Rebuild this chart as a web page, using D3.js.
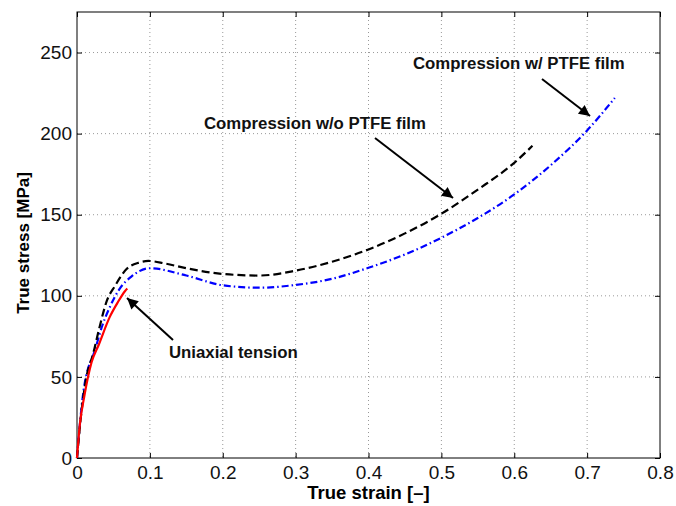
<!DOCTYPE html>
<html>
<head>
<meta charset="utf-8">
<script src="https://cdn.jsdelivr.net/npm/d3@7"></script>
<style>
  body { margin: 0; background: #fff; }
  svg { display: block; font-family: "Liberation Sans", Arial, sans-serif; }
  .grid line { stroke: #999; stroke-dasharray: 1,3; }
</style>
</head>
<body>
<div id="chart"></div>
<script>
// Data: [true strain, true stress MPa]
const tension = [[0,0],[0.004,21],[0.01,38],[0.02,59],[0.03,70],[0.045,87],[0.056,96],[0.066,103],[0.069,104.5]];
const compNoFilm = [[0,0],[0.005,24],[0.013,50],[0.022,64],[0.03,79],[0.041,97],[0.052,106],[0.068,116.5],[0.085,120.5],[0.098,121.5],[0.12,120],[0.15,117],[0.2,113.5],[0.25,112.5],[0.3,115.5],[0.35,121],[0.4,128.6],[0.45,138.5],[0.5,150.6],[0.55,165.5],[0.6,182],[0.625,192.5]];
const compFilm = [[0,0],[0.002,11],[0.009,41.5],[0.025,67],[0.035,82],[0.045,93],[0.058,104],[0.075,112],[0.1,117],[0.15,112.5],[0.2,106.5],[0.25,105],[0.3,106.7],[0.35,110.5],[0.4,117.3],[0.45,125.5],[0.5,135.8],[0.55,148],[0.6,162.5],[0.65,180.5],[0.7,202],[0.738,222]];
const xTicks = [0,0.1,0.2,0.3,0.4,0.5,0.6,0.7,0.8];
const yTicks = [0,50,100,150,200,250];

const W = 676, H = 506;
const m = {left: 77, right: 16, top: 12, bottom: 48};
const iw = W - m.left - m.right, ih = H - m.top - m.bottom;

const svg = d3.select("#chart").append("svg").attr("width", W).attr("height", H);
const g = svg.append("g").attr("transform", `translate(${m.left},${m.top})`);

const x = d3.scaleLinear().domain([0, 0.8]).range([0, iw]);
const y = d3.scaleLinear().domain([0, 275]).range([ih, 0]);

// Grid
g.append("g").attr("class", "grid")
  .selectAll("line").data(xTicks.slice(1, -1)).join("line")
  .attr("x1", d => x(d)).attr("x2", d => x(d)).attr("y1", 0).attr("y2", ih);
g.append("g").attr("class", "grid")
  .selectAll("line").data(yTicks.slice(1)).join("line")
  .attr("x1", 0).attr("x2", iw).attr("y1", d => y(d)).attr("y2", d => y(d));

// Axes with inward ticks, MATLAB style
const fmtX = d => d === 0 ? "0" : d3.format(".1f")(d);
const xb = g.append("g").attr("transform", `translate(0,${ih})`)
  .call(d3.axisBottom(x).tickValues(xTicks).tickFormat(fmtX).tickSizeInner(-5).tickSizeOuter(0).tickPadding(8));
const xt = g.append("g").call(d3.axisTop(x).tickValues(xTicks).tickFormat("").tickSizeInner(-5).tickSizeOuter(0));
const yl = g.append("g")
  .call(d3.axisLeft(y).tickValues(yTicks).tickSizeInner(-5).tickSizeOuter(0).tickPadding(5));
const yr = g.append("g").attr("transform", `translate(${iw},0)`)
  .call(d3.axisRight(y).tickValues(yTicks).tickFormat("").tickSizeInner(-5).tickSizeOuter(0));
[xb, xt, yl, yr].forEach(a => {
  a.select(".domain").remove();
  a.selectAll("line").attr("stroke", "#000");
  a.selectAll("text").attr("fill", "#111").style("font-size", "19px");
});

g.append("rect").attr("width", iw).attr("height", ih)
  .attr("fill", "none").attr("stroke", "#000").attr("stroke-width", 1);

// Curves
const line = d3.line().x(d => x(d[0])).y(d => y(d[1])).curve(d3.curveMonotoneX);
g.append("path").datum(compFilm).attr("d", line)
  .attr("fill", "none").attr("stroke", "#0000ff").attr("stroke-width", 2.2)
  .attr("stroke-dasharray", "7,3,1.5,3");
g.append("path").datum(compNoFilm).attr("d", line)
  .attr("fill", "none").attr("stroke", "#000").attr("stroke-width", 2.2)
  .attr("stroke-dasharray", "8,4");
g.append("path").datum(tension).attr("d", line)
  .attr("fill", "none").attr("stroke", "#ff0000").attr("stroke-width", 2.2);

// Annotations with arrows
svg.append("defs").append("marker")
  .attr("id", "arr").attr("viewBox", "0 0 10 10").attr("refX", 10).attr("refY", 5)
  .attr("markerWidth", 16).attr("markerHeight", 11).attr("markerUnits", "userSpaceOnUse")
  .attr("orient", "auto")
  .append("path").attr("d", "M0,0 L10,5 L0,10 Z").attr("fill", "#000");

const notes = [
  {text: "Compression w/ PTFE film", tx: 413, ty: 69, from: [542, 79], to: [590, 116]},
  {text: "Compression w/o PTFE film", tx: 204, ty: 129, from: [375, 138], to: [453, 198]},
  {text: "Uniaxial tension", tx: 169, ty: 358, from: [173, 340], to: [127, 298]}
];
notes.forEach(n => {
  svg.append("line").attr("x1", n.from[0]).attr("y1", n.from[1])
    .attr("x2", n.to[0]).attr("y2", n.to[1])
    .attr("stroke", "#000").attr("stroke-width", 2).attr("marker-end", "url(#arr)");
  svg.append("text").attr("x", n.tx).attr("y", n.ty).text(n.text)
    .style("font-size", "16.8px").style("font-weight", "bold").attr("fill", "#111");
});

// Axis labels
svg.append("text").attr("x", m.left + iw / 2).attr("y", 499).attr("text-anchor", "middle")
  .style("font-size", "18.5px").style("font-weight", "bold").text("True strain [–]");
svg.append("text").attr("transform", `translate(29,${m.top + ih / 2 + 8}) rotate(-90)`)
  .attr("text-anchor", "middle")
  .style("font-size", "17px").style("font-weight", "bold").text("True stress [MPa]");
</script>
</body>
</html>
